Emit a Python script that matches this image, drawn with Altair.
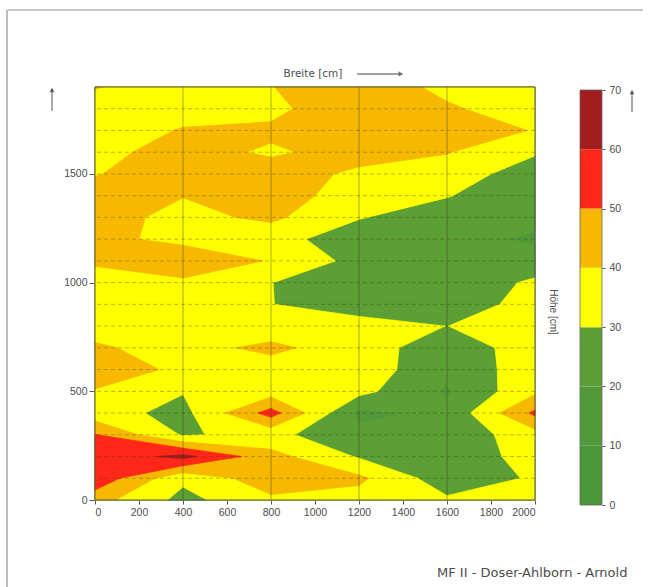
import altair as alt
import pandas as pd

# Measurement grid: Breite (x) and Höhe (y) in cm
breite = [0, 400, 800, 1200, 1600, 2000]
hoehe = list(range(0, 2000, 100))

# Measured values per column, listed from Höhe 0 up to 1900
col_0 = [44, 57, 53, 50.5, 34, 39.5, 44, 41, 37, 36, 37, 41, 42, 44, 44, 39.5, 37, 36, 36, 40.5]
col_400 = [27, 32, 63, 29, 27, 30.5, 38.5, 37, 35, 36, 38.6, 45, 38, 37, 40.3, 45, 44, 40.5, 37, 35]
col_800 = [38, 46, 43.5, 33, 54, 35, 36, 42, 35, 30.2, 30.2, 39.5, 33.3, 42, 46, 45, 38.5, 42, 37, 39.8]
col_1200 = [36, 42, 29, 22, 18, 33, 36, 35, 34, 25, 22, 26.5, 25, 30.5, 34, 38, 44, 48, 49, 45]
col_1600 = [31.5, 24, 25, 23, 22, 19, 22, 24, 29.9, 24, 22, 22, 22, 25, 30.5, 35, 40.5, 45, 41, 38]
col_2000 = [34, 31.2, 33, 36, 52, 38, 36, 35, 36, 34, 32, 23, 19, 22, 23, 25, 31, 39.5, 36, 35]
columns = [col_0, col_400, col_800, col_1200, col_1600, col_2000]

# Contour levels and band colours
levels = [0, 10, 20, 30, 40, 50, 60]
band_colors = ["#4a9638", "#51993a", "#5c9f34", "#ffff00", "#f6b900", "#ff2818", "#a21e1e"]
bar_ticks = [0, 10, 20, 30, 40, 50, 60, 70]

grid_x = [400, 800, 1200, 1600]
grid_y = list(range(100, 1900, 100))
x_ticks = list(range(0, 2200, 200))
y_ticks = [0, 500, 1000, 1500]

W, H = 440, 413
FONT = "Liberation Sans"
WIDE = "DejaVu Sans"
TXT = "#4d4d4d"

xscale = alt.Scale(domain=[0, 2000], nice=False, zero=False)
yscale = alt.Scale(domain=[0, 1900], nice=False, zero=False)
xaxis = alt.Axis(values=x_ticks, title=None, grid=False, domain=False, format="d",
                 tickSize=4, tickColor="#555", labelPadding=3)
yaxis = alt.Axis(values=y_ticks, title=None, grid=False, domain=False, format="d",
                 tickSize=6, tickColor="#555", labelPadding=2)


def region_polygons(level):
    """Marching-squares region {value >= level}, one polygon per grid cell."""
    recs = []
    for i in range(len(breite) - 1):
        for j in range(len(hoehe) - 1):
            corners = [
                (breite[i], hoehe[j], columns[i][j]),
                (breite[i + 1], hoehe[j], columns[i + 1][j]),
                (breite[i + 1], hoehe[j + 1], columns[i + 1][j + 1]),
                (breite[i], hoehe[j + 1], columns[i][j + 1]),
            ]
            pts = []
            for k in range(4):
                xa, ya, va = corners[k]
                xb, yb, vb = corners[(k + 1) % 4]
                if va >= level:
                    pts.append((xa, ya))
                if (va >= level) != (vb >= level):
                    t = (level - va) / (vb - va)
                    pts.append((xa + t * (xb - xa), ya + t * (yb - ya)))
            if len(pts) >= 3:
                pts.append(pts[0])
                for n, (px, py) in enumerate(pts):
                    recs.append({"poly": f"{i}-{j}", "n": n, "b": px, "h": py})
    return pd.DataFrame(recs)


layers = []
for lev, col in zip(levels, band_colors):
    df = region_polygons(lev)
    if df.empty:
        continue
    layers.append(
        alt.Chart(df).mark_line(fill=col, stroke=col, strokeWidth=0.8, strokeJoin="round").encode(
            x=alt.X("b:Q", scale=xscale, axis=xaxis),
            y=alt.Y("h:Q", scale=yscale, axis=yaxis),
            detail="poly:N", order="n:Q"
        )
    )

# grid lines drawn over the filled bands
vgrid = alt.Chart(pd.DataFrame({"g": grid_x})).mark_rule(color="#3d3a20", opacity=0.55, strokeWidth=0.8).encode(
    x=alt.X("g:Q", scale=xscale, axis=xaxis)
)
hgrid = alt.Chart(pd.DataFrame({"g": grid_y})).mark_rule(
    color="#3d3a20", opacity=0.45, strokeWidth=0.8, strokeDash=[4, 3]
).encode(y=alt.Y("g:Q", scale=yscale, axis=yaxis))

one = pd.DataFrame({"k": [0]})
frame = alt.Chart(one).mark_rect(filled=False, stroke="#555", strokeWidth=1).encode(
    x=alt.value(0), x2=alt.value(W), y=alt.value(0), y2=alt.value(H)
)


def label(text, x, y, size=10, angle=0, align="center", font=FONT):
    return alt.Chart(pd.DataFrame({"t": [text]})).mark_text(
        font=font, fontSize=size, color=TXT, angle=angle, align=align, baseline="middle"
    ).encode(text="t:N", x=alt.value(x), y=alt.value(y))


title_x = label("Breite [cm]", 218, -13, size=10.5, font=WIDE)
title_y = label("Höhe [cm]", 458, 225, size=10, angle=90)
credit = label("MF II - Doser-Ahlborn - Arnold", 342, 486, size=13, align="left", font=WIDE)

# arrows next to the axis titles
arrows = alt.layer(
    alt.Chart(one).mark_rule(color="#444", strokeWidth=1.2).encode(
        x=alt.value(262), x2=alt.value(305), y=alt.value(-13)),
    alt.Chart(one).mark_point(shape="triangle-right", filled=True, color="#444", size=30).encode(
        x=alt.value(306), y=alt.value(-13)),
    alt.Chart(one).mark_rule(color="#777", strokeWidth=1.3).encode(
        x=alt.value(-43), y=alt.value(2), y2=alt.value(24)),
    alt.Chart(one).mark_point(shape="triangle-up", filled=True, color="#333", size=25).encode(
        x=alt.value(-43), y=alt.value(3)),
    alt.Chart(one).mark_rule(color="#777", strokeWidth=1.3).encode(
        x=alt.value(537), y=alt.value(5), y2=alt.value(25)),
    alt.Chart(one).mark_point(shape="triangle-up", filled=True, color="#333", size=25).encode(
        x=alt.value(537), y=alt.value(5)),
)

# page frame lines
page_frame = alt.layer(
    alt.Chart(one).mark_rule(color="#bbb", strokeWidth=2).encode(
        x=alt.value(-88), y=alt.value(-77), y2=alt.value(500)),
    alt.Chart(one).mark_rule(color="#c8c8c8", strokeWidth=2).encode(
        x=alt.value(-88), x2=alt.value(548), y=alt.value(-77)),
)

main = alt.layer(*layers, vgrid, hgrid, frame, title_x, title_y, credit, arrows, page_frame)

# colour bar
cb = pd.DataFrame({"lo": levels, "hi": [l + 10 for l in levels], "c": band_colors})
bar = alt.Chart(cb).mark_rect().encode(
    x=alt.value(485), x2=alt.value(507),
    y=alt.Y("lo:Q", scale=alt.Scale(domain=[0, 70], range=[418, 3], nice=False),
            axis=alt.Axis(orient="right", offset=67, values=bar_ticks, title=None, domain=False,
                          tickSize=3, tickColor="#555", labelPadding=4, grid=False)),
    y2="hi:Q",
    color=alt.Color("c:N", scale=None),
)
bar_box = alt.Chart(one).mark_rect(filled=False, stroke="#666", strokeWidth=0.8).encode(
    x=alt.value(485), x2=alt.value(507), y=alt.value(3), y2=alt.value(418)
)

chart = alt.layer(main, bar + bar_box).resolve_scale(y="independent").properties(
    width=W, height=H,
    autosize=alt.AutoSizeParams(type="none"),
    padding={"left": 95, "top": 87, "right": 115, "bottom": 87},
).configure_view(stroke="transparent").configure_axis(
    labelFont=FONT, labelFontSize=10.5, labelColor=TXT
)

chart.save("out.html", embed_options={"renderer": "svg", "actions": False})
